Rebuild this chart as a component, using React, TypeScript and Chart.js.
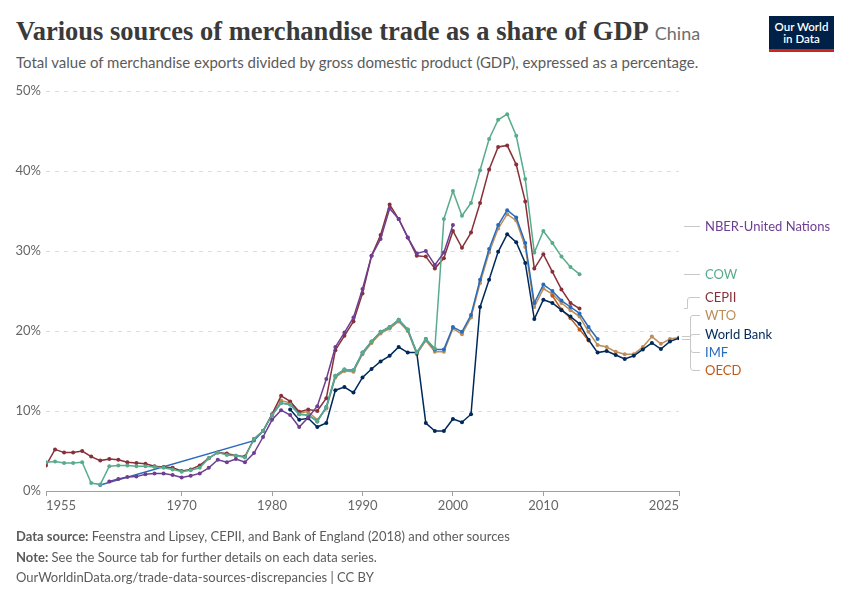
import React, { useEffect, useRef } from "react";
import { Chart, registerables } from "chart.js";

Chart.register(...registerables);

// ---------- data ----------
const xTickYears = [1955, 1970, 1980, 1990, 2000, 2010, 2025];
const yTickValues = [0, 10, 20, 30, 40, 50];

const nberStart = 1962;
const nberValues = [
  1.2, 1.5, 1.75, 1.8, 2.1, 2.2, 2.2, 2.0, 1.7, 1.9, 2.2, 2.9, 3.9, 3.6, 4.0, 3.6, 4.75,
  6.75, 8.9, 10.1, 9.5, 8.0, 9.2, 10.6, 14.0, 18.0, 19.8, 21.7, 25.25, 29.4, 31.5, 35.3,
  34.0, 31.7, 29.7, 30.0, 28.25, 29.8, 33.25,
];

const cowStart = 1955;
const cowValues = [
  3.6, 3.7, 3.5, 3.5, 3.6, 1.0, 0.8, 3.1, 3.2, 3.2,
  3.1, 3.1, 3.0, 2.9, 2.7, 2.4, 2.6, 2.9, 4.1, 4.8,
  4.5, 4.4, 4.2, 6.5, 7.5, 9.5, 11.0, 10.8, 9.6, 9.5,
  8.7, 10.5, 14.4, 15.2, 15.1, 17.3, 18.7, 19.9, 20.5, 21.4,
  20.2, 17.3, 19.0, 17.8, 34.0, 37.5, 34.4, 36.0, 40.1, 44.0,
  46.4, 47.1, 44.4, 39.0, 29.8, 32.5, 31.0, 29.3, 28.0, 27.1,
];

const cepiiStart = 1955;
const cepiiValues = [
  3.2, 5.2, 4.8, 4.8, 5.0, 4.3, 3.8, 4.0, 3.9, 3.6,
  3.5, 3.4, 3.1, 3.0, 2.9, 2.5, 2.7, 3.2, 4.1, 4.8,
  4.7, 4.4, 4.3, 6.5, 7.5, 9.6, 11.9, 11.2, 9.9, 10.2,
  10.0, 11.6, 17.6, 19.4, 21.2, 24.7, 29.4, 32.0, 35.8, 34.0,
  31.7, 29.4, 29.3, 27.8, 29.1, 32.5, 30.4, 32.3, 36.0, 40.2,
  43.0, 43.2, 40.8, 36.2, 27.8, 29.6, 27.4, 25.2, 23.5, 22.8,
];

const wtoStart = 1980;
const wtoValues = [
  9.4, 11.3, 11.0, 9.8, 9.9, 8.9, 10.3, 14.2, 15.0, 14.9,
  17.1, 18.5, 19.7, 20.3, 21.2, 20.0, 17.1, 18.8,
  17.4, 17.4, 20.3, 19.6, 21.7, 26.0, 29.8, 32.8, 34.6, 33.8,
  30.5, 23.0, 25.3, 24.6, 23.5, 22.6, 21.8, 19.9, 18.25, 18.0,
  17.4, 17.1, 17.1, 18.0, 19.3, 18.4, 19.0, 19.2,
];

const worldBankStart = 1982;
const worldBankValues = [
  10.2, 8.9, 9.1, 8.0, 8.5, 12.6, 13.0, 12.3, 14.2, 15.25,
  16.2, 16.9, 18.0, 17.3, 17.3, 8.5, 7.5, 7.5, 9.0, 8.6,
  9.6, 23.0, 26.4, 29.9, 32.1, 31.1, 28.5, 21.5, 23.9, 23.5,
  22.6, 21.8, 20.9, 18.9, 17.3, 17.5, 17.0, 16.5, 16.9, 17.7,
  18.5, 17.75, 18.7, 19.1,
];

const imfYears = [
  1961, 1978, 1979, 1980, 1981, 1982, 1983, 1984, 1985, 1986, 1987, 1988, 1989, 1990,
  1991, 1992, 1993, 1994, 1995, 1996, 1997, 1998, 1999, 2000, 2001, 2002, 2003, 2004,
  2005, 2006, 2007, 2008, 2009, 2010, 2011, 2012, 2013, 2014, 2015, 2016,
];
const imfValues = [
  0.75, 6.3, 7.5, 9.5, 11.0, 10.8, 9.6, 9.5, 8.7, 10.5, 14.4, 15.2, 15.1, 17.3,
  18.7, 19.9, 20.5, 21.4, 20.2, 17.3, 19.0, 17.7, 17.7, 20.5, 19.9, 22.0, 26.4, 30.25,
  33.25, 35.1, 34.2, 31.0, 23.5, 25.8, 25.0, 23.8, 23.0, 22.2, 20.5, 19.0,
];

const oecdStart = 2011;
const oecdValues = [24.4, 22.7, 21.6, 20.2, 18.8];

const seriesNames = ["NBER-United Nations", "COW", "CEPII", "WTO", "World Bank", "IMF", "OECD"];
const seriesColors = ["#6D3E91", "#58AC8C", "#883039", "#BC8E5A", "#00295B", "#286BBB", "#C05917"];

// ---------- helpers ----------
const fromStart = (start: number, vals: number[]) =>
  vals.map((v, i) => ({ x: start + i, y: v }));
const fromPairs = (yrs: number[], vals: number[]) =>
  vals.map((v, i) => ({ x: yrs[i], y: v }));

const CHART_LEFT = 46;
const CHART_RIGHT = 679;
const CHART_TOP = 91;
const CHART_BOTTOM = 491;
const W = 850;
const H = 600;

const labelLayout = [
  { name: "NBER-United Nations", y: 226 },
  { name: "COW", y: 274 },
  { name: "CEPII", y: 297 },
  { name: "WTO", y: 315 },
  { name: "World Bank", y: 334 },
  { name: "IMF", y: 352 },
  { name: "OECD", y: 370 },
];

export default function App() {
  const canvasRef = useRef<HTMLCanvasElement | null>(null);

  useEffect(() => {
    if (!canvasRef.current) return;
    const mk = (idx: number, data: { x: number; y: number }[], spanGaps = false) => ({
      label: seriesNames[idx],
      data,
      borderColor: seriesColors[idx],
      backgroundColor: seriesColors[idx],
      borderWidth: 1.5,
      pointRadius: 2,
      pointHoverRadius: 2,
      pointBorderWidth: 0,
      tension: 0,
      spanGaps,
    });
    // first dataset is drawn on top
    const datasets = [
      mk(0, fromStart(nberStart, nberValues)),
      mk(1, fromStart(cowStart, cowValues)),
      mk(2, fromStart(cepiiStart, cepiiValues)),
      mk(4, fromStart(worldBankStart, worldBankValues)),
      mk(6, fromStart(oecdStart, oecdValues)),
      mk(5, fromPairs(imfYears, imfValues), true),
      mk(3, fromStart(wtoStart, wtoValues)),
    ];

    const chart = new Chart(canvasRef.current, {
      type: "line",
      data: { datasets },
      options: {
        animation: false,
        responsive: false,
        devicePixelRatio: 1,
        layout: {
          padding: {
            left: 0,
            right: W - CHART_RIGHT,
            top: CHART_TOP,
            bottom: H - CHART_BOTTOM - 30,
          },
        },
        plugins: {
          legend: { display: false },
          tooltip: { enabled: false },
          title: { display: false },
        },
        scales: {
          x: {
            type: "linear",
            min: 1955,
            max: 2025,
            afterBuildTicks: (scale: any) => {
              scale.ticks = xTickYears.map((v) => ({ value: v }));
            },
            afterFit: (scale: any) => {
              scale.height = 30;
            },
            ticks: {
              callback: (v: any) => String(v),
              color: "#666",
              font: { family: "Lato", size: 13 },
              padding: 2,
              maxRotation: 0,
              autoSkip: false,
              align: "inner",
            },
            grid: {
              display: true,
              drawOnChartArea: false,
              drawTicks: true,
              tickLength: 5,
              color: "#a0a0a0",
            },
            border: { display: true, color: "#a0a0a0", width: 1 },
          },
          y: {
            type: "linear",
            min: 0,
            max: 50,
            afterBuildTicks: (scale: any) => {
              scale.ticks = yTickValues.map((v) => ({ value: v }));
            },
            afterFit: (scale: any) => {
              scale.width = CHART_LEFT;
            },
            ticks: {
              callback: (v: any) => v + "%",
              color: "#666",
              font: { family: "Lato", size: 13 },
              padding: 5,
            },
            grid: {
              display: true,
              drawTicks: false,
              color: (ctx: any) => (ctx.tick && ctx.tick.value === 0 ? "rgba(0,0,0,0)" : "#dddddd"),
              lineWidth: 1,
            },
            border: { display: false, dash: [4, 5] },
          },
        },
      },
    });
    return () => chart.destroy();
  }, []);

  const textGray = "#5b5b5b";

  return (
    <div
      style={{
        position: "absolute",
        left: 0,
        top: 0,
        width: W,
        height: H,
        background: "#fff",
        fontFamily: "Lato, sans-serif",
        overflow: "hidden",
      }}
    >
      <div
        style={{
          position: "absolute",
          left: 16,
          top: 15,
          whiteSpace: "nowrap",
          lineHeight: "32px",
        }}
      >
        <span
          style={{
            fontFamily: "'Liberation Serif', serif",
            fontWeight: 700,
            fontSize: 26.5,
            color: "#3a3a3a",
          }}
        >
          Various sources of merchandise trade as a share of GDP
        </span>
        <span style={{ fontFamily: "Lato", fontSize: 18, color: "#6e6e6e", marginLeft: 6 }}>China</span>
      </div>
      <div
        style={{
          position: "absolute",
          left: 16,
          top: 52,
          fontSize: 15,
          color: textGray,
          whiteSpace: "nowrap",
          lineHeight: "20px",
        }}
      >
        Total value of merchandise exports divided by gross domestic product (GDP), expressed as a percentage.
      </div>

      {/* logo */}
      <div
        style={{
          position: "absolute",
          left: 769,
          top: 16,
          width: 65,
          height: 36,
          background: "#002147",
          borderBottom: "3px solid #CE261E",
          boxSizing: "border-box",
          color: "#fff",
          textAlign: "center",
          fontSize: 11.5,
          fontWeight: 600,
          lineHeight: "12px",
          paddingTop: 5,
        }}
      >
        Our World
        <br />
        in Data
      </div>

      <canvas
        ref={canvasRef}
        width={W}
        height={H}
        style={{ position: "absolute", left: 0, top: 0, width: W, height: H }}
      />

      {/* connector lines */}
      <svg
        width={W}
        height={H}
        style={{ position: "absolute", left: 0, top: 0, pointerEvents: "none" }}
      >
        <g stroke="#c8c8c8" strokeWidth={1} fill="none">
          <line x1={684} y1={226.5} x2={700} y2={226.5} />
          <line x1={684} y1={274.5} x2={700} y2={274.5} />
          <path d="M684 308.5 L687.5 308.5 L687.5 300 Q687.5 297.5 690 297.5 L700 297.5" />
          <line x1={682} y1={336.5} x2={690} y2={336.5} />
          <line x1={682} y1={339.5} x2={690} y2={339.5} />
          <path d="M690.5 318 Q690.5 315.5 693 315.5 L700 315.5" />
          <path d="M690.5 318 L690.5 367 Q690.5 370.5 693 370.5 L700 370.5" />
          <path d="M690.5 337 Q690.5 334.5 693 334.5 L700 334.5" />
          <path d="M690.5 349 Q690.5 352.5 693 352.5 L700 352.5" />
        </g>
      </svg>

      {labelLayout.map((l) => (
        <div
          key={l.name}
          style={{
            position: "absolute",
            left: 705,
            top: l.y - 9,
            height: 18,
            lineHeight: "18px",
            fontSize: 13,
            color: seriesColors[seriesNames.indexOf(l.name)],
            whiteSpace: "nowrap",
          }}
        >
          {l.name}
        </div>
      ))}

      {/* footer */}
      <div
        style={{
          position: "absolute",
          left: 16,
          top: 526,
          fontSize: 13,
          color: textGray,
          lineHeight: "20.5px",
          whiteSpace: "nowrap",
        }}
      >
        <div>
          <b style={{ fontWeight: 700 }}>Data source:</b> Feenstra and Lipsey, CEPII, and Bank of England (2018) and other sources
        </div>
        <div>
          <b style={{ fontWeight: 700 }}>Note:</b> See the Source tab for further details on each data series.
        </div>
        <div>OurWorldinData.org/trade-data-sources-discrepancies | CC BY</div>
      </div>
    </div>
  );
}
